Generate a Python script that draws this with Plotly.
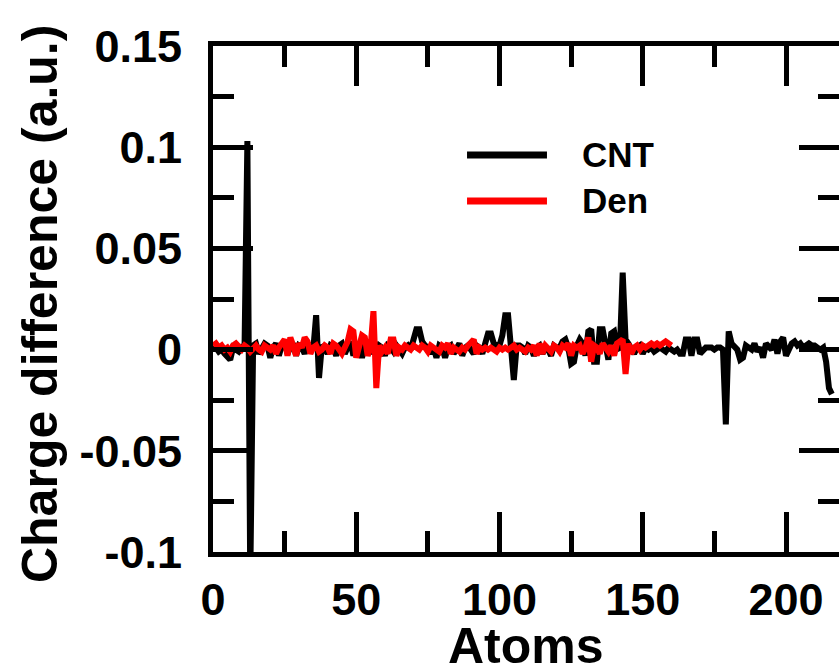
import plotly.graph_objects as go

# ---------------- data ----------------
cnt_atoms = list(range(0, 217))
cnt_values = [
    0.000, 0.001, -0.001, 0.000, -0.002, -0.004, -0.005, 0.001, 0.000, -0.001,   # 0-9
    0.001, 0.000, 0.103, -0.115, 0.002, 0.003, -0.002, 0.001, 0.003, 0.002,      # 10-19
    -0.004, 0.001, 0.003, -0.003, 0.002, 0.004, -0.002, 0.001, 0.003, -0.003,    # 20-29
    0.002, 0.001, -0.002, 0.003, 0.001, 0.000, 0.017, -0.014, 0.002, 0.001,      # 30-39
    -0.002, 0.002, 0.001, -0.003, 0.002, 0.003, -0.002, 0.002, 0.004, -0.003,    # 40-49
    0.002, 0.001, -0.004, 0.002, 0.003, -0.002, 0.001, -0.002, 0.002, 0.001,     # 50-59
    -0.003, 0.002, 0.001, -0.001, 0.002, 0.000, -0.002, 0.001, 0.002, 0.000,     # 60-69
    0.004, 0.010, 0.010, 0.004, 0.002, 0.001, -0.002, 0.001, -0.004, 0.002,      # 70-79
    0.001, -0.004, 0.001, 0.002, -0.002, 0.001, 0.003, -0.003, 0.001, 0.002,     # 80-89
    0.000, -0.002, 0.002, 0.001, -0.002, 0.002, 0.008, 0.008, 0.003, 0.002,      # 90-99
    0.002, 0.007, 0.017, 0.017, 0.003, -0.015, 0.002, 0.002, 0.001, -0.002,      # 100-109
    0.002, 0.001, -0.003, 0.001, 0.002, -0.002, 0.001, 0.000, -0.003, 0.002,     # 110-119
    0.001, 0.001, 0.004, 0.005, 0.001, -0.007, -0.006, 0.002, 0.005, 0.003,      # 120-129
    -0.003, 0.009, 0.010, -0.006, -0.006, 0.010, 0.010, 0.002, -0.005, 0.008,    # 130-139
    0.009, 0.001, 0.000, 0.038, 0.005, 0.003, 0.001, -0.002, 0.001, 0.002,       # 140-149
    -0.002, 0.001, 0.000, 0.001, -0.001, 0.000, 0.001, 0.000, -0.001, 0.001,     # 150-159
    0.000, -0.001, 0.000, -0.002, -0.002, 0.005, 0.005, -0.003, 0.005, 0.005,    # 160-169
    -0.002, 0.000, 0.001, 0.001, 0.001, 0.000, 0.001, 0.001, 0.000, -0.037,      # 170-179
    0.009, 0.003, 0.001, 0.000, -0.005, -0.004, 0.002, 0.001, 0.000, 0.003,      # 180-189
    -0.001, 0.001, -0.004, 0.003, 0.001, 0.000, 0.005, -0.002, 0.004, 0.006,     # 190-199
    -0.003, 0.000, 0.003, 0.004, 0.002, 0.003, 0.001, 0.002, 0.003, 0.002,       # 200-209
    0.002, 0.001, 0.000, 0.001, -0.006, -0.019, -0.022,                          # 210-216
]

den_atoms = list(range(0, 161))
den_values = [
    0.002, 0.003, 0.001, 0.002, 0.000, 0.001, -0.001, 0.002, 0.003, 0.001,       # 0-9
    0.000, 0.002, 0.001, -0.001, 0.001, 0.002, 0.000, -0.001, 0.002, 0.001,      # 10-19
    0.000, 0.002, -0.002, 0.001, 0.003, 0.005, -0.003, 0.006, 0.002, -0.003,     # 20-29
    0.003, 0.001, 0.006, 0.004, -0.002, 0.001, 0.002, -0.001, 0.000, 0.002,      # 30-39
    0.001, -0.002, 0.003, 0.002, 0.000, -0.002, 0.001, 0.004, 0.010, 0.009,      # 40-49
    -0.004, 0.001, 0.007, 0.006, -0.003, 0.001, 0.019, -0.019, 0.002, -0.001,    # 50-59
    0.001, -0.002, 0.005, 0.005, -0.003, 0.001, 0.000, 0.002, 0.001, 0.000,      # 60-69
    0.002, 0.001, 0.000, 0.002, 0.001, -0.001, 0.002, 0.001, 0.000, -0.001,      # 70-79
    0.002, 0.001, 0.003, -0.002, 0.001, 0.000, -0.001, 0.001, 0.000, 0.002,      # 80-89
    0.004, 0.005, -0.002, 0.001, 0.000, 0.001, 0.000, 0.001, 0.000, -0.001,      # 90-99
    0.001, 0.000, 0.001, 0.000, 0.001, 0.002, 0.000, 0.001, 0.000, -0.001,       # 100-109
    0.001, 0.000, 0.002, -0.003, 0.003, -0.002, 0.002, 0.000, -0.001, 0.002,     # 110-119
    0.001, -0.001, 0.002, 0.001, 0.003, -0.003, 0.002, 0.001, 0.002, -0.002,     # 120-129
    0.001, 0.006, -0.006, 0.002, 0.001, -0.002, 0.003, 0.001, -0.001, 0.002,     # 130-139
    -0.003, 0.003, 0.004, 0.005, -0.012, 0.003, -0.002, 0.001, 0.002, 0.000,     # 140-149
    0.002, 0.001, 0.002, 0.003, 0.002, 0.003, 0.002, 0.003, 0.004, 0.003,        # 150-159
    0.002,                                                                       # 160
]

series_names = ["CNT", "Den"]
x_title = "Atoms"
y_title = "Charge difference (a.u.)"
y_tickvals = [-0.1, -0.05, 0, 0.05, 0.1, 0.15]
y_ticktext = ["-0.1", "-0.05", "0", "0.05", "0.1", "0.15"]
x_tickvals = [0, 50, 100, 150, 200]
x_ticktext = ["0", "50", "100", "150", "200"]

# ---------------- figure ----------------
FONT = "Liberation Sans, Arial, Helvetica, sans-serif"

fig = go.Figure()
fig.add_trace(go.Scatter(x=cnt_atoms, y=cnt_values, mode="lines", name=series_names[0],
                         line=dict(color="black", width=6), showlegend=False))
fig.add_trace(go.Scatter(x=den_atoms, y=den_values, mode="lines", name=series_names[1],
                         line=dict(color="#ff0000", width=6), showlegend=False))
# carrier for the right-hand tick axis
fig.add_trace(go.Scatter(x=[None], y=[None], yaxis="y2", showlegend=False, hoverinfo="skip"))

tickfont = dict(family=FONT, size=45, color="black", weight="bold")
titlefont = dict(family=FONT, size=50, color="black", weight="bold")

fig.update_layout(
    width=839, height=668, autosize=False,
    margin=dict(l=213, r=0, t=46, b=116, pad=0),
    paper_bgcolor="white", plot_bgcolor="white",
    xaxis=dict(
        range=[0, 218.5], showgrid=False, zeroline=False, automargin=False,
        showline=True, linewidth=5, linecolor="black", mirror="ticks",
        ticks="inside", ticklen=40, tickwidth=5, tickcolor="black",
        tickvals=x_tickvals, ticktext=x_ticktext, tickfont=tickfont,
        ticklabelstandoff=4,
        minor=dict(dtick=25, tick0=0, ticks="inside", ticklen=21, tickwidth=5, tickcolor="black", showgrid=False),
    ),
    yaxis=dict(
        range=[-0.1, 0.15], showgrid=False, zeroline=False, automargin=False,
        showline=True, linewidth=5, linecolor="black", mirror=False,
        ticks="inside", ticklen=40, tickwidth=5, tickcolor="black",
        tickvals=y_tickvals, ticktext=y_ticktext, tickfont=tickfont,
        ticklabelstandoff=17,
        minor=dict(dtick=0.025, tick0=0, ticks="inside", ticklen=21, tickwidth=5, tickcolor="black", showgrid=False),
    ),
    yaxis2=dict(
        overlaying="y", side="right", range=[-0.1, 0.15], showgrid=False, zeroline=False,
        automargin=False,
        showline=False, ticks="inside", ticklen=40, tickwidth=5, tickcolor="black",
        tickvals=y_tickvals, showticklabels=False,
        minor=dict(dtick=0.025, tick0=0, ticks="inside", ticklen=21, tickwidth=5, tickcolor="black", showgrid=False),
    ),
)

# axis titles
fig.add_annotation(xref="paper", yref="paper", x=0.5, y=-0.186, text=x_title, showarrow=False,
                   xanchor="center", yanchor="middle", font=titlefont)
fig.add_annotation(xref="paper", yref="paper", x=-0.2764, y=0.49, text=y_title, showarrow=False,
                   textangle=-90, xanchor="center", yanchor="middle", font=titlefont)

# hand-drawn legend (long sample lines as in the original)
legend_colors = ["black", "#ff0000"]
legend_y = [0.7846, 0.6937]
for name, col, yy in zip(series_names, legend_colors, legend_y):
    fig.add_shape(type="line", xref="paper", yref="paper", x0=0.4058, x1=0.5335, y0=yy, y1=yy,
                  line=dict(color=col, width=7))
    fig.add_annotation(xref="paper", yref="paper", x=0.586, y=yy, text=name, showarrow=False,
                       xanchor="left", yanchor="middle",
                       font=dict(family=FONT, size=35, color="black", weight="bold"))

fig.write_html("out.html")
